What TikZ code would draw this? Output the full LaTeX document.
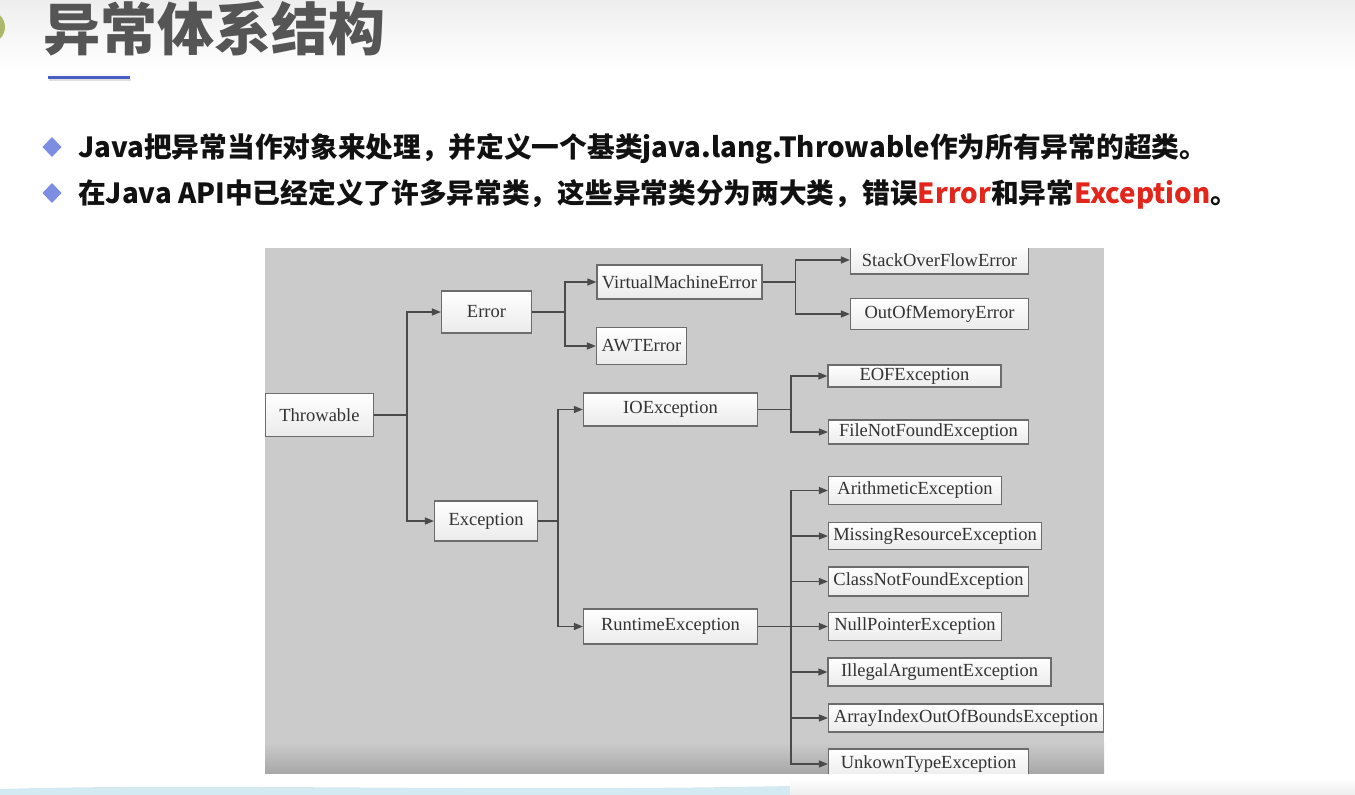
\documentclass[tikz,border=0pt]{standalone}
\usepackage{fontspec}
\setmainfont{Liberation Serif}
\newfontfamily\cjkfont{Noto Sans CJK SC}
\usepackage{xcolor}
\usetikzlibrary{arrows.meta}

\definecolor{titlegray}{HTML}{555555}
\definecolor{bulletblue}{HTML}{7D8EE2}
\definecolor{bullettext}{HTML}{111111}
\definecolor{errred}{HTML}{E2261B}
\definecolor{rulerblue}{HTML}{4A5EC2}
\definecolor{panelgray}{HTML}{CBCBCB}
\definecolor{panelbottom}{HTML}{A8A8A8}
\definecolor{boxline}{HTML}{6C6C6C}
\definecolor{boxshade}{HTML}{EBEBEB}
\definecolor{boxtext}{HTML}{333333}
\definecolor{linkgray}{HTML}{4A4A4A}
\definecolor{logogreen}{HTML}{AEB86B}
\definecolor{bandblue}{HTML}{D3EAF2}
\definecolor{bandgray}{HTML}{EEEEEE}

\begin{document}
\begin{tikzpicture}[
  x=1pt, y=-1pt,
  box/.style={draw=boxline, line width=1.2pt, top color=white, bottom color=boxshade,
    inner sep=0pt, align=center, text=boxtext, font=\fontsize{18.5}{20}\selectfont},
  arrow/.style={-{Triangle[length=9pt, width=7pt]}, line width=1.4pt, draw=linkgray},
  bullet/.style={anchor=base west, inner sep=0pt, text=bullettext,
    font=\cjkfont\bfseries\fontsize{27.7}{30}\selectfont}
]
\useasboundingbox (0,0) rectangle (1355,795);

% page
\fill[white] (0,0) rectangle (1355,795);
\shade[top color=bandgray, bottom color=white] (0,0) rectangle (1355,70);
\fill[bandblue] (0,789) .. controls (200,783) and (500,792) .. (790,786) -- (790,795) -- (0,795) -- cycle;
\shade[top color=white, bottom color=bandgray] (790,778) rectangle (1355,795);

% title
\fill[logogreen] (-11,27) circle (16);
\node[anchor=base west, inner sep=0pt, text=titlegray,
  font=\cjkfont\bfseries\fontsize{57}{60}\selectfont] (title) at (43,50) {异常体系结构};
\fill[gray!25] (49,79) rectangle (131,81);
\fill[rulerblue] (48,76) rectangle (130,78.6);

% bullets
\fill[bulletblue] (52,137) -- (61.5,147) -- (52,157) -- (42.5,147) -- cycle;
\fill[bulletblue] (52,183) -- (61.5,193) -- (52,203) -- (42.5,193) -- cycle;
\node[bullet] (line1) at (78,157) {Java把异常当作对象来处理，并定义一个基类java.lang.Throwable作为所有异常的超类。};
\node[bullet] (line2) at (78,203) {在Java API中已经定义了许多异常类，这些异常类分为两大类，错误\textcolor{errred}{Error}和异常\textcolor{errred}{Exception}。};

% diagram panel
\fill[panelgray] (265,248) rectangle (1104,773);
\shade[top color=panelgray, bottom color=panelbottom] (265,742) rectangle (1104,773);

\begin{scope}
\clip (265,248) rectangle (1104,773);

\node[box, minimum width=108pt, minimum height=43pt] (throwable) at (319.5,415) {Throwable};

\node[box, minimum width=90pt, minimum height=42pt] (error) at (486.5,312) {Error};
\node[box, minimum width=103pt, minimum height=40pt] (exception) at (486,521) {Exception};

\node[box, minimum width=165pt, minimum height=34pt] (vmerror) at (679.5,282) {VirtualMachineError};
\node[box, minimum width=90pt, minimum height=37pt] (awterror) at (641.5,346) {AWTError};
\node[box, minimum width=178pt, minimum height=28pt] (stackoverflow) at (939.5,260) {StackOverFlowError};
\node[box, minimum width=178pt, minimum height=31pt] (outofmemory) at (939.5,314) {OutOfMemoryError};

\node[box, minimum width=174pt, minimum height=33pt] (ioexception) at (670.5,409.5) {IOException};
\node[box, minimum width=173pt, minimum height=22pt] (eof) at (914.5,376) {EOFException};
\node[box, minimum width=200pt, minimum height=24pt] (filenotfound) at (928.5,432) {FileNotFoundException};

\node[box, minimum width=174pt, minimum height=35pt] (runtime) at (670.5,626.5) {RuntimeException};
\node[box, minimum width=173pt, minimum height=28pt] (arithmetic) at (915,490.5) {ArithmeticException};
\node[box, minimum width=213pt, minimum height=27pt] (missing) at (935,536) {MissingResourceException};
\node[box, minimum width=200pt, minimum height=29pt] (classnotfound) at (928.5,581.5) {ClassNotFoundException};
\node[box, minimum width=173pt, minimum height=28pt] (nullpointer) at (915,626.5) {NullPointerException};
\node[box, minimum width=223pt, minimum height=28pt] (illegal) at (939.5,672) {IllegalArgumentException};
\node[box, minimum width=275pt, minimum height=28pt] (arrayindex) at (966,718) {ArrayIndexOutOfBoundsException};
\node[box, minimum width=200pt, minimum height=30pt] (unknowntype) at (928.5,764) {UnkownTypeException};

\draw[arrow] (throwable.east) -- ++(33,0) |- (error.west);
\draw[arrow] (throwable.east) -- ++(33,0) |- (exception.west);
\draw[arrow] (error.east) -- ++(33,0) |- (vmerror.west);
\draw[arrow] (error.east) -- ++(33,0) |- (awterror.west);
\draw[arrow] (vmerror.east) -- ++(33,0) |- (stackoverflow.west);
\draw[arrow] (vmerror.east) -- ++(33,0) |- (outofmemory.west);
\draw[arrow] (exception.east) -- ++(20,0) |- (ioexception.west);
\draw[arrow] (exception.east) -- ++(20,0) |- (runtime.west);
\draw[arrow] (ioexception.east) -- ++(33,0) |- (eof.west);
\draw[arrow] (ioexception.east) -- ++(33,0) |- (filenotfound.west);
\draw[arrow] (runtime.east) -- ++(33,0) |- (arithmetic.west);
\draw[arrow] (runtime.east) -- ++(33,0) |- (missing.west);
\draw[arrow] (runtime.east) -- ++(33,0) |- (classnotfound.west);
\draw[arrow] (runtime.east) -- (nullpointer.west);
\draw[arrow] (runtime.east) -- ++(33,0) |- (illegal.west);
\draw[arrow] (runtime.east) -- ++(33,0) |- (arrayindex.west);
\draw[arrow] (runtime.east) -- ++(33,0) |- (unknowntype.west);
\end{scope}
\end{tikzpicture}
\end{document}
